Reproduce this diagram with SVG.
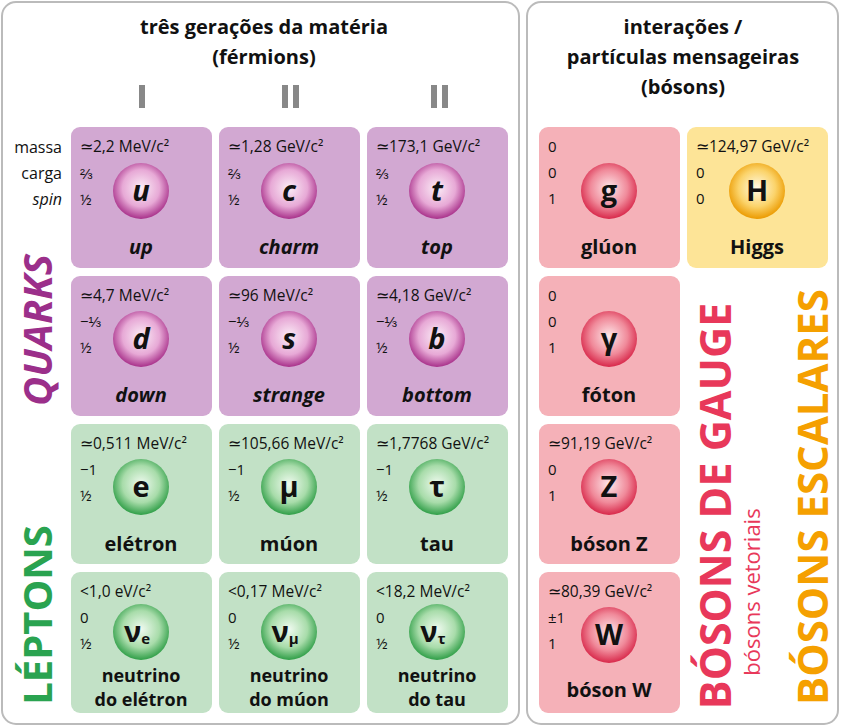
<svg xmlns="http://www.w3.org/2000/svg" width="842" height="728" viewBox="0 0 842 728">
<defs>
<radialGradient id="gq" cx="0.5" cy="0.45" r="0.55"><stop offset="0" stop-color="#fbeef7"/><stop offset="0.6" stop-color="#e7a9d6"/><stop offset="1" stop-color="#a8308a"/></radialGradient>
<radialGradient id="gl" cx="0.5" cy="0.45" r="0.55"><stop offset="0" stop-color="#f0faf0"/><stop offset="0.6" stop-color="#a8dcaa"/><stop offset="1" stop-color="#2f9e47"/></radialGradient>
<radialGradient id="gg" cx="0.5" cy="0.45" r="0.55"><stop offset="0" stop-color="#fde8ea"/><stop offset="0.6" stop-color="#f08a9a"/><stop offset="1" stop-color="#d8284a"/></radialGradient>
<radialGradient id="gh" cx="0.5" cy="0.45" r="0.55"><stop offset="0" stop-color="#fffbe8"/><stop offset="0.6" stop-color="#fbd36a"/><stop offset="1" stop-color="#eb9a00"/></radialGradient>
<style>
text{font-family:"Open Sans","Liberation Sans",sans-serif;fill:#111}
.panel{fill:#fff;stroke:#bbb;stroke-width:2}
.q{fill:#d2a8d2}.l{fill:#c2e1c6}.g{fill:#f5b1b8}.h{fill:#fde497}
.m{font-size:15.5px}.s{font-size:15px}
.sym{font-size:29px;font-weight:bold;text-anchor:middle}
.it{font-style:italic}
.nm{font-size:20px;font-weight:bold;text-anchor:middle}
.nn{font-size:18px;font-weight:bold;text-anchor:middle}
.hd{font-size:20px;font-weight:bold;text-anchor:middle}
.lab{font-size:16px;text-anchor:end}
</style>
</defs>
<rect class="panel" x="2" y="2" width="517" height="722" rx="14"/>
<rect class="panel" x="527" y="2" width="311" height="722" rx="14"/>
<text class="hd" x="264" y="34">três gerações da matéria</text>
<text class="hd" x="264" y="64">(férmions)</text>
<text class="hd" x="683" y="34">interações /</text>
<text class="hd" x="683" y="64">partículas mensageiras</text>
<text class="hd" x="683" y="94">(bósons)</text>
<g id="roman"><rect x="139" y="85" width="6" height="23" fill="#888"/><rect x="282" y="85" width="6" height="23" fill="#888"/><rect x="293" y="85" width="6" height="23" fill="#888"/><rect x="431" y="85" width="6" height="23" fill="#888"/><rect x="442" y="85" width="6" height="23" fill="#888"/></g>
<text class="lab" x="62" y="153">massa</text>
<text class="lab" x="62" y="179">carga</text>
<text class="lab it" x="62" y="205">spin</text>

<g id="up"><rect class="q" x="71" y="127" width="141" height="141" rx="9"/><text class="m" x="80" y="152">≃2,2 MeV/c²</text><text class="s" x="80" y="179">⅔</text><text class="s" x="80" y="205">½</text><circle cx="141" cy="191" r="28" fill="url(#gq)"/><text class="sym it" x="141" y="201">u</text><text class="nm it" x="141" y="254">up</text></g>
<g id="charm"><rect class="q" x="219" y="127" width="141" height="141" rx="9"/><text class="m" x="228" y="152">≃1,28 GeV/c²</text><text class="s" x="228" y="179">⅔</text><text class="s" x="228" y="205">½</text><circle cx="289" cy="191" r="28" fill="url(#gq)"/><text class="sym it" x="289" y="201">c</text><text class="nm it" x="289" y="254">charm</text></g>
<g id="top"><rect class="q" x="367" y="127" width="141" height="141" rx="9"/><text class="m" x="376" y="152">≃173,1 GeV/c²</text><text class="s" x="376" y="179">⅔</text><text class="s" x="376" y="205">½</text><circle cx="437" cy="191" r="28" fill="url(#gq)"/><text class="sym it" x="437" y="201">t</text><text class="nm it" x="437" y="254">top</text></g>

<g id="down"><rect class="q" x="71" y="276" width="141" height="140" rx="9"/><text class="m" x="80" y="301">≃4,7 MeV/c²</text><text class="s" x="80" y="327">−⅓</text><text class="s" x="80" y="353">½</text><circle cx="141" cy="339" r="28" fill="url(#gq)"/><text class="sym it" x="141" y="349">d</text><text class="nm it" x="141" y="402">down</text></g>
<g id="strange"><rect class="q" x="219" y="276" width="141" height="140" rx="9"/><text class="m" x="228" y="301">≃96 MeV/c²</text><text class="s" x="228" y="327">−⅓</text><text class="s" x="228" y="353">½</text><circle cx="289" cy="339" r="28" fill="url(#gq)"/><text class="sym it" x="289" y="349">s</text><text class="nm it" x="289" y="402">strange</text></g>
<g id="bottom"><rect class="q" x="367" y="276" width="141" height="140" rx="9"/><text class="m" x="376" y="301">≃4,18 GeV/c²</text><text class="s" x="376" y="327">−⅓</text><text class="s" x="376" y="353">½</text><circle cx="437" cy="339" r="28" fill="url(#gq)"/><text class="sym it" x="437" y="349">b</text><text class="nm it" x="437" y="402">bottom</text></g>

<g id="electron"><rect class="l" x="71" y="424" width="141" height="140" rx="9"/><text class="m" x="80" y="449">≃0,511 MeV/c²</text><text class="s" x="80" y="475">−1</text><text class="s" x="80" y="501">½</text><circle cx="141" cy="487" r="28" fill="url(#gl)"/><text class="sym" x="141" y="497">e</text><text class="nm" x="141" y="551">elétron</text></g>
<g id="muon"><rect class="l" x="219" y="424" width="141" height="140" rx="9"/><text class="m" x="228" y="449">≃105,66 MeV/c²</text><text class="s" x="228" y="475">−1</text><text class="s" x="228" y="501">½</text><circle cx="289" cy="487" r="28" fill="url(#gl)"/><text class="sym" x="289" y="497" font-weight="normal">μ</text><text class="nm" x="289" y="551">múon</text></g>
<g id="tau"><rect class="l" x="367" y="424" width="141" height="140" rx="9"/><text class="m" x="376" y="449">≃1,7768 GeV/c²</text><text class="s" x="376" y="475">−1</text><text class="s" x="376" y="501">½</text><circle cx="437" cy="487" r="28" fill="url(#gl)"/><text class="sym" x="437" y="497" font-weight="normal">τ</text><text class="nm" x="437" y="551">tau</text></g>

<g id="nue"><rect class="l" x="71" y="572" width="141" height="141" rx="9"/><text class="m" x="80" y="597">&lt;1,0 eV/c²</text><text class="s" x="80" y="623">0</text><text class="s" x="80" y="649">½</text><circle cx="141" cy="632" r="28" fill="url(#gl)"/><text class="sym" x="137" y="642" font-weight="normal">ν<tspan font-size="15" dy="2">e</tspan></text><text class="nn" x="141" y="682">neutrino</text><text class="nn" x="141" y="706">do elétron</text></g>
<g id="numu"><rect class="l" x="219" y="572" width="141" height="141" rx="9"/><text class="m" x="228" y="597">&lt;0,17 MeV/c²</text><text class="s" x="228" y="623">0</text><text class="s" x="228" y="649">½</text><circle cx="289" cy="632" r="28" fill="url(#gl)"/><text class="sym" x="285" y="642" font-weight="normal">ν<tspan font-size="15" dy="2">μ</tspan></text><text class="nn" x="289" y="682">neutrino</text><text class="nn" x="289" y="706">do múon</text></g>
<g id="nutau"><rect class="l" x="367" y="572" width="141" height="141" rx="9"/><text class="m" x="376" y="597">&lt;18,2 MeV/c²</text><text class="s" x="376" y="623">0</text><text class="s" x="376" y="649">½</text><circle cx="437" cy="632" r="28" fill="url(#gl)"/><text class="sym" x="433" y="642" font-weight="normal">ν<tspan font-size="15" dy="2">τ</tspan></text><text class="nn" x="437" y="682">neutrino</text><text class="nn" x="437" y="706">do tau</text></g>

<g id="gluon"><rect class="g" x="539" y="127" width="141" height="141" rx="9"/><text class="s" x="548" y="152">0</text><text class="s" x="548" y="178">0</text><text class="s" x="548" y="204">1</text><circle cx="609" cy="191" r="28" fill="url(#gg)"/><text class="sym" x="609" y="201">g</text><text class="nm" x="609" y="254">glúon</text></g>
<g id="higgs"><rect class="h" x="687" y="127" width="141" height="141" rx="9"/><text class="m" x="696" y="152">≃124,97 GeV/c²</text><text class="s" x="696" y="178">0</text><text class="s" x="696" y="204">0</text><circle cx="757" cy="191" r="28" fill="url(#gh)"/><text class="sym" x="757" y="201">H</text><text class="nm" x="757" y="254">Higgs</text></g>
<g id="photon"><rect class="g" x="539" y="276" width="141" height="140" rx="9"/><text class="s" x="548" y="301">0</text><text class="s" x="548" y="327">0</text><text class="s" x="548" y="353">1</text><circle cx="609" cy="339" r="28" fill="url(#gg)"/><text class="sym" x="609" y="349" font-weight="normal">γ</text><text class="nm" x="609" y="402">fóton</text></g>
<g id="z"><rect class="g" x="539" y="424" width="141" height="140" rx="9"/><text class="m" x="548" y="449">≃91,19 GeV/c²</text><text class="s" x="548" y="475">0</text><text class="s" x="548" y="501">1</text><circle cx="609" cy="487" r="28" fill="url(#gg)"/><text class="sym" x="609" y="497">Z</text><text class="nm" x="609" y="551">bóson Z</text></g>
<g id="w"><rect class="g" x="539" y="572" width="141" height="141" rx="9"/><text class="m" x="548" y="597">≃80,39 GeV/c²</text><text class="s" x="548" y="623">±1</text><text class="s" x="548" y="649">1</text><circle cx="609" cy="635" r="28" fill="url(#gg)"/><text class="sym" x="609" y="645">W</text><text class="nm" x="609" y="697">bóson W</text></g>

<text transform="translate(52,330) rotate(-90)" text-anchor="middle" font-size="40" font-weight="bold" font-style="italic" style="fill:#9b2f8a">QUARKS</text>
<text transform="translate(52,615) rotate(-90)" text-anchor="middle" font-size="40" font-weight="bold" style="fill:#2aa350">LÉPTONS</text>
<text transform="translate(731,506) rotate(-90)" text-anchor="middle" font-size="43" font-weight="bold" style="fill:#e8385a">BÓSONS DE GAUGE</text>
<text transform="translate(760,592) rotate(-90)" text-anchor="middle" font-size="22" style="fill:#e8385a">bósons vetoriais</text>
<text transform="translate(828,497) rotate(-90)" text-anchor="middle" font-size="42" font-weight="bold" style="fill:#f5a000">BÓSONS ESCALARES</text>
</svg>
